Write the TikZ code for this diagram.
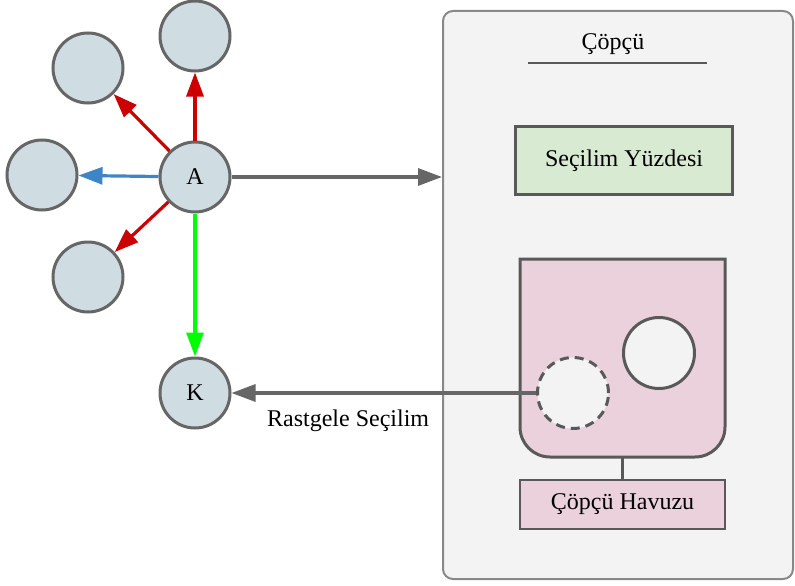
\documentclass[tikz,border=0pt]{standalone}
\usepackage{fontspec}
\setmainfont{Liberation Serif}
\usetikzlibrary{arrows.meta}
\definecolor{nodefill}{HTML}{CFDCE2}
\definecolor{nodeline}{HTML}{666666}
\definecolor{boxfill}{HTML}{F3F3F3}
\definecolor{boxline}{HTML}{888888}
\definecolor{darkline}{HTML}{595959}
\definecolor{greenfill}{HTML}{D9EAD3}
\definecolor{pinkfill}{HTML}{EAD1DC}
\definecolor{redarrow}{HTML}{CC0000}
\definecolor{bluearrow}{HTML}{3D85C6}
\definecolor{greenarrow}{HTML}{00FF00}
\definecolor{greyarrow}{HTML}{666666}
\begin{document}
\begin{tikzpicture}[x=1pt,y=-1pt,
  every node/.style={font=\fontsize{24}{28}\selectfont},
  agent/.style={circle,draw=nodeline,fill=nodefill,line width=3pt,minimum size=70pt,inner sep=0pt},
  member/.style={circle,draw=darkline,fill=boxfill,line width=3pt,minimum size=71pt,inner sep=0pt},
  conn/.style={line width=3.2pt,-{Triangle[length=24pt,width=17pt]}},
  plainbox/.style={rectangle,draw=darkline,line width=2.6pt,inner sep=0pt}
]
\useasboundingbox (0,0) rectangle (795,586);

% container
\node[rectangle,rounded corners=10pt,draw=boxline,fill=boxfill,line width=2pt,
      minimum width=350pt,minimum height=568pt,inner sep=0pt] (cop) at (618,295) {};
\node (title) at (613,44) {Çöpçü};
\coordinate (tl) at (528,63);
\coordinate (tr) at (707,63);
\draw[darkline,line width=2.6pt] (tl) -- (tr);

\node[plainbox,fill=greenfill,minimum width=217pt,minimum height=68pt] (sec) at (624,160.5) {Seçilim Yüzdesi};

% pool shape
\draw[darkline,fill=pinkfill,line width=3pt]
  (520,259) -- (725,259) -- (725,427)
  .. controls (725,443.6) and (711.6,457) .. (695,457)
  -- (550,457)
  .. controls (533.4,457) and (520,443.6) .. (520,427) -- cycle;
\coordinate (poolbot) at (622.5,457);

\node[member] (m1) at (659,353) {};
\node[member,dash pattern=on 9pt off 6pt] (m2) at (573,393) {};

\node[plainbox,fill=pinkfill,minimum width=205pt,minimum height=49pt] (hav) at (622.5,504.5) {Çöpçü Havuzu};
\draw[darkline,line width=3pt] (poolbot) -- (hav.north);

% agents
\node[agent] (A) at (195,177) {A};
\node[agent] (n1) at (195,36) {};
\node[agent] (n2) at (88,68) {};
\node[agent] (n3) at (42,175) {};
\node[agent] (n4) at (88,277) {};
\node[agent] (K) at (195,393) {K};

\draw[conn,redarrow] (A) -- (n1);
\draw[conn,redarrow] (A) -- (n2);
\draw[conn,bluearrow] (A) -- (n3);
\draw[conn,redarrow] (A) -- (n4);
\draw[conn,greenarrow] (A) -- (K);
\draw[conn,greyarrow] (A) -- (A -| cop.west);
\draw[conn,greyarrow] (m2) -- node[pos=0.617,below=12pt,text=black] (lbl) {Rastgele Seçilim} (K);
\end{tikzpicture}
\end{document}
